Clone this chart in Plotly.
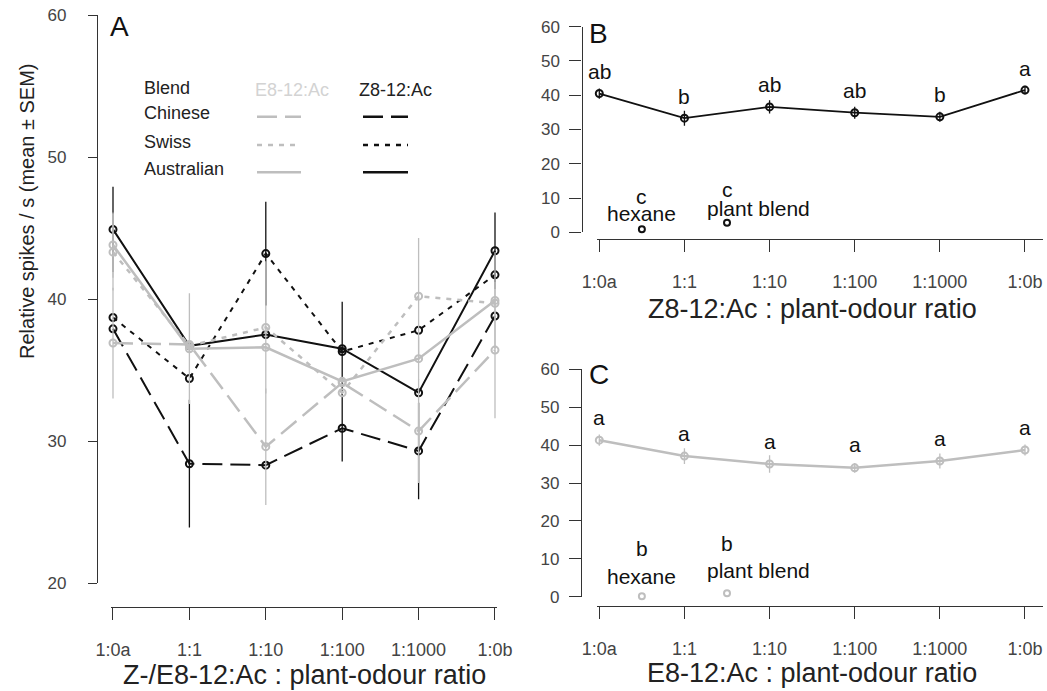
import plotly.graph_objects as go

# ---------------- data ----------------
categories = ["1:0a", "1:1", "1:10", "1:100", "1:1000", "1:0b"]

# Panel A (mean, SEM; 0 = no bar drawn)
z_chinese = [37.9, 28.4, 28.3, 30.9, 29.3, 38.8]
z_swiss = [38.7, 34.4, 43.2, 36.3, 37.8, 41.7]
z_australian = [44.9, 36.7, 37.5, 36.5, 33.4, 43.4]
e_chinese = [36.9, 36.8, 29.6, 34.1, 30.7, 36.4]
e_swiss = [43.3, 36.7, 38.0, 33.4, 40.2, 39.7]
e_australian = [43.8, 36.5, 36.6, 34.2, 35.8, 39.9]

z_chinese_sem = [0, 4.5, 0, 2.35, 3.4, 0]
z_swiss_sem = [0, 0, 3.65, 0, 0, 0]
z_australian_sem = [3.0, 0, 0, 3.3, 0, 2.7]
e_chinese_sem = [3.9, 0, 4.1, 0, 3.65, 4.8]
e_swiss_sem = [2.7, 0, 4.65, 0, 4.1, 0]
e_australian_sem = [2.3, 3.9, 0, 0, 1.5, 3.4]

# Panel B (Z8-12:Ac)
b_means = [40.5, 33.3, 36.6, 34.9, 33.7, 41.5]
b_sem = [1.5, 2.2, 1.9, 1.75, 1.45, 1.3]
b_letters = ["ab", "b", "ab", "ab", "b", "a"]

# Panel C (E8-12:Ac)
c_means = [41.3, 37.1, 35.0, 34.0, 35.8, 38.7]
c_sem = [1.5, 2.1, 2.3, 1.3, 2.0, 1.45]
c_letters = ["a", "a", "a", "a", "a", "a"]

controls = ["hexane", "plant blend"]
b_ctrl = [0.9, 2.8]
b_ctrl_letters = ["c", "c"]
c_ctrl = [0.1, 0.9]
c_ctrl_letters = ["b", "b"]

# ---------------- styles ----------------
W, H = 1047, 691
FONT = "Liberation Sans, Arial, sans-serif"
BLACK = "#111111"
GRAY = "#bebebe"
LIGHTGRAY = "#d3d3d3"
AXIS = "#333333"
TICK = "#444444"
DASH = {"Chinese": "20px,8px", "Swiss": "5px,6px", "Australian": "solid"}

xs = list(range(len(categories)))
ctrl_x = [i + 0.5 for i in range(len(controls))]


def px(x):
    return x / W


def py(y):
    return 1 - y / H


fig = go.Figure()


def add_series(y, sem, color, dash, width, xa, ya, msize=7):
    fig.add_trace(go.Scatter(
        x=xs, y=y, mode="lines+markers", xaxis=xa, yaxis=ya,
        line=dict(color=color, width=width, dash=dash),
        marker=dict(symbol="circle-open", size=msize, color=color,
                    line=dict(width=2, color=color)),
        error_y=dict(type="data", array=sem, visible=True, width=0,
                     thickness=1.3, color=color),
        cliponaxis=False, showlegend=False, hoverinfo="skip"))


# Panel A: black first, gray on top
add_series(z_chinese, z_chinese_sem, BLACK, DASH["Chinese"], 2, "x", "y")
add_series(z_swiss, z_swiss_sem, BLACK, DASH["Swiss"], 2, "x", "y")
add_series(z_australian, z_australian_sem, BLACK, DASH["Australian"], 2, "x", "y")
add_series(e_chinese, e_chinese_sem, GRAY, DASH["Chinese"], 2.5, "x", "y")
add_series(e_swiss, e_swiss_sem, GRAY, DASH["Swiss"], 2.5, "x", "y")
add_series(e_australian, e_australian_sem, GRAY, DASH["Australian"], 2.5, "x", "y")

# Panel B
add_series(b_means, b_sem, BLACK, "solid", 1.8, "x2", "y2", msize=7)
fig.add_trace(go.Scatter(
    x=ctrl_x, y=b_ctrl, mode="markers", xaxis="x2", yaxis="y2",
    marker=dict(symbol="circle-open", size=6, color=BLACK, line=dict(width=2, color=BLACK)),
    cliponaxis=False, showlegend=False, hoverinfo="skip"))

# Panel C
add_series(c_means, c_sem, GRAY, "solid", 2.5, "x3", "y3", msize=7)
fig.add_trace(go.Scatter(
    x=ctrl_x, y=c_ctrl, mode="markers", xaxis="x3", yaxis="y3",
    marker=dict(symbol="circle-open", size=6, color=GRAY, line=dict(width=2, color=GRAY)),
    cliponaxis=False, showlegend=False, hoverinfo="skip"))

ann = []


def note(**kw):
    kw.setdefault("showarrow", False)
    kw.setdefault("xanchor", "center")
    kw.setdefault("yanchor", "middle")
    ann.append(kw)


# letters above means
for i, (m, l) in enumerate(zip(b_means, b_letters)):
    note(x=xs[i], y=m, xref="x2", yref="y2", text=l, yshift=22,
         font=dict(size=21, color=BLACK, family=FONT))
for i, (m, l) in enumerate(zip(c_means, c_letters)):
    note(x=xs[i], y=m, xref="x3", yref="y3", text=l, yshift=23,
         font=dict(size=21, color=BLACK, family=FONT))

# control labels
ctrl_style = {
    "x2": dict(name_shift=[16, 14], letter_shift=[33, 33], letters=b_ctrl_letters, vals=b_ctrl, ya="y2"),
    "x3": dict(name_shift=[20, 23], letter_shift=[48, 50], letters=c_ctrl_letters, vals=c_ctrl, ya="y3"),
}
for xa, st in ctrl_style.items():
    for i, name in enumerate(controls):
        if i == 0:
            note(x=ctrl_x[i], y=st["vals"][i], xref=xa, yref=st["ya"], text=name,
                 yshift=st["name_shift"][i], font=dict(size=21, color=BLACK, family=FONT))
        else:
            note(x=ctrl_x[i], y=st["vals"][i], xref=xa, yref=st["ya"], text=name,
                 xanchor="left", xshift=-22, yshift=st["name_shift"][i],
                 font=dict(size=21, color=BLACK, family=FONT))
        note(x=ctrl_x[i], y=st["vals"][i], xref=xa, yref=st["ya"], text=st["letters"][i],
             yshift=st["letter_shift"][i], font=dict(size=21, color=BLACK, family=FONT))

# panel letters
for t, x, y in [("A", 119, 27), ("B", 598, 33), ("C", 599, 374)]:
    note(x=px(x), y=py(y), xref="paper", yref="paper", text=t,
         font=dict(size=28, color=BLACK, family=FONT))

# axis titles
note(x=px(304), y=py(675), xref="paper", yref="paper",
     text="Z-/E8-12:Ac : plant-odour ratio", font=dict(size=27, color="#222222", family=FONT))
note(x=px(812), y=py(309), xref="paper", yref="paper",
     text="Z8-12:Ac : plant-odour ratio", font=dict(size=27, color="#222222", family=FONT))
note(x=px(812), y=py(673), xref="paper", yref="paper",
     text="E8-12:Ac : plant-odour ratio", font=dict(size=27, color="#222222", family=FONT))
note(x=px(27), y=py(211), xref="paper", yref="paper",
     text="Relative spikes / s (mean ± SEM)", textangle=-90,
     font=dict(size=20, color="#222222", family=FONT))

# legend (panel A)
legend_rows = ["Chinese", "Swiss", "Australian"]
note(x=px(142), y=py(88), xref="paper", yref="paper", text="Blend", xanchor="left",
     font=dict(size=18, color="#222222", family=FONT))
note(x=px(292), y=py(90), xref="paper", yref="paper", text="E8-12:Ac",
     font=dict(size=18, color=LIGHTGRAY, family=FONT))
note(x=px(395), y=py(90), xref="paper", yref="paper", text="Z8-12:Ac",
     font=dict(size=18, color="#222222", family=FONT))
shapes = []
for name, ty, ly in zip(legend_rows, [113, 142, 169], [116.7, 145, 172.3]):
    note(x=px(142), y=py(ty), xref="paper", yref="paper", text=name, xanchor="left",
         font=dict(size=18, color="#222222", family=FONT))
    shapes.append(dict(type="line", xref="paper", yref="paper", x0=px(257), x1=px(301),
                       y0=py(ly), y1=py(ly), line=dict(color=GRAY, width=2.5, dash=DASH[name])))
    shapes.append(dict(type="line", xref="paper", yref="paper", x0=px(363), x1=px(408),
                       y0=py(ly), y1=py(ly), line=dict(color=BLACK, width=2.5, dash=DASH[name])))

tickfont = dict(size=17, color=TICK, family=FONT)
xtickfont = dict(size=18, color=TICK, family=FONT)

pad = 0.03
unitA = (495 - 113) / 5
xaxis_common = dict(tickmode="array", tickvals=xs, ticktext=categories, showgrid=False,
                    zeroline=False, showline=True, linecolor=AXIS, linewidth=1.2,
                    ticks="outside", ticklen=12, tickwidth=1.2, tickcolor=AXIS,
                    tickfont=xtickfont, anchor="free", automargin=False)
yaxis_common = dict(showgrid=False, zeroline=False, showline=True, linecolor=AXIS, linewidth=1.2,
                    ticks="outside", tickwidth=1.2, tickcolor=AXIS, tickfont=tickfont,
                    anchor="free", automargin=False)

fig.update_layout(
    xaxis=dict(**xaxis_common, range=[-pad, 5 + pad], ticklabelstandoff=14,
               domain=[px(113 - pad * unitA), px(495 + pad * unitA)], position=py(607)),
    yaxis=dict(**yaxis_common, range=[20, 60], domain=[py(583), py(15)], position=px(97),
               ticklen=9, ticklabelstandoff=18, tickvals=[20, 30, 40, 50, 60]),
)

unitB = (1025 - 599.3) / 5
xr_right = (1043 - 599.3) / unitB
fig.update_layout(
    xaxis2=dict(**xaxis_common, range=[-pad, xr_right], ticklabelstandoff=14,
                domain=[px(599.3 - pad * unitB), px(1043)], position=py(239.3)),
    yaxis2=dict(**yaxis_common, range=[0, 60], domain=[py(232.3), py(26.7)], position=px(581.5),
                ticklen=12, ticklabelstandoff=6, tickvals=[0, 10, 20, 30, 40, 50, 60]),
    xaxis3=dict(**xaxis_common, range=[-pad, xr_right], ticklabelstandoff=14,
                domain=[px(599.3 - pad * unitB), px(1043)], position=py(606)),
    yaxis3=dict(**yaxis_common, range=[0, 60], domain=[py(596.7), py(369.3)], position=px(581),
                ticklen=12, ticklabelstandoff=6, tickvals=[0, 10, 20, 30, 40, 50, 60]),
)

fig.update_layout(
    width=W, height=H, margin=dict(l=0, r=0, t=0, b=0, pad=0, autoexpand=False),
    paper_bgcolor="white", plot_bgcolor="white",
    annotations=ann, shapes=shapes, showlegend=False,
    font=dict(family=FONT),
)

fig.write_html("out.html", config={"displayModeBar": False})
